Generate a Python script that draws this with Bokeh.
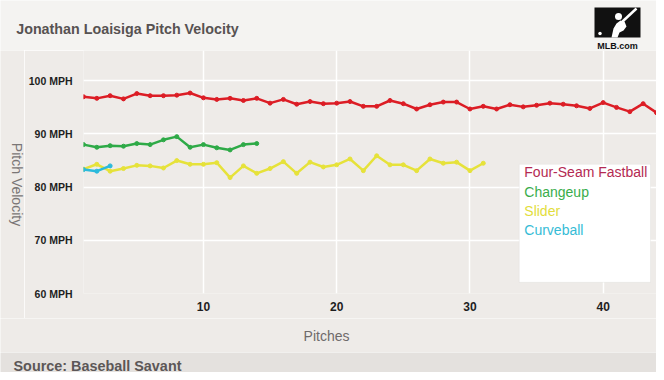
import math
from bokeh.plotting import figure
from bokeh.models import Range1d, FixedTicker, BoxAnnotation, Label
from bokeh.layouts import column, row
from bokeh.embed import file_html
from bokeh.resources import INLINE
from bokeh.core.properties import value

# ---------------- data ----------------
title_text = "Jonathan Loaisiga Pitch Velocity"
source_text = "Source: Baseball Savant"
x_label = "Pitches"
y_label = "Pitch Velocity"

y_ticks = [60, 70, 80, 90, 100]
y_tick_labels = ["60 MPH", "70 MPH", "80 MPH", "90 MPH", "100 MPH"]
x_ticks = [10, 20, 30, 40]

series_names = ["Four-Seam Fastball", "Changeup", "Slider", "Curveball"]
fastball = [97.0, 96.7, 97.2, 96.6, 97.6, 97.2, 97.2, 97.3, 97.7, 96.8, 96.5,
            96.7, 96.3, 96.7, 95.8, 96.5, 95.6, 96.1, 95.7, 95.8, 96.1, 95.2,
            95.2, 96.3, 95.7, 94.7, 95.5, 96.0, 96.0, 94.7, 95.2, 94.7, 95.5,
            95.1, 95.4, 95.8, 95.6, 95.3, 94.8, 95.9, 95.0, 94.2, 95.7, 94.0]
changeup = [88.0, 87.5, 87.8, 87.7, 88.2, 88.0, 88.9, 89.5, 87.5, 88.0, 87.4,
            87.0, 88.0, 88.2]
slider = [83.4, 84.3, 83.0, 83.5, 84.1, 84.0, 83.6, 85.0, 84.3, 84.3, 84.6,
          81.8, 84.0, 82.6, 83.5, 84.8, 82.6, 84.7, 83.8, 84.2, 85.3, 83.1,
          85.9, 84.2, 84.2, 83.1, 85.3, 84.5, 84.7, 83.1, 84.5]
curveball = [83.3, 83.0, 84.0]

line_colors = ["#dc1d25", "#2eaa47", "#e6e23a", "#2bbadc"]
legend_colors = ["#b42a52", "#3aad4c", "#e2dd3c", "#36bcd6"]

FONT = "Liberation Sans"
BODY_BG = "#eeebe8"
HEAD_BG = "#f4f3f1"
FOOT_BG = "#e4e1de"

W = 656


def strip(width, height, bg):
    f = figure(width=width, height=height, x_range=Range1d(0, width),
               y_range=Range1d(0, height), toolbar_location=None,
               output_backend="svg", min_border=0, frame_align=False)
    f.axis.visible = False
    f.grid.visible = False
    f.outline_line_color = None
    f.background_fill_color = bg
    f.border_fill_color = bg
    return f


# ---------------- header ----------------
head = strip(W, 50, HEAD_BG)
head.text(x=[15.7], y=[21.7], text=[title_text], text_font=value(FONT),
          text_font_style="bold", text_font_size="14.3px", text_color="#575252",
          text_baseline="alphabetic", text_align="left")
# MLB logo (approximation)
head.quad(left=[594], right=[640], bottom=[13], top=[43], fill_color="#111111",
          line_color=None)
head.patch(x=[611, 613, 616, 620, 624, 626, 623, 619, 617, 614],
           y=[13, 22, 27, 30, 29, 24, 20, 18, 13, 13],
           fill_color="white", line_color=None)
head.scatter(x=[618], y=[34], size=7, fill_color="white", line_color=None)
head.line(x=[622, 636], y=[29, 42], line_color="white", line_width=2.5)
head.scatter(x=[599.5], y=[17], size=3.5, fill_color="white", line_color=None)
head.text(x=[617], y=[5], text=["MLB.com"], text_font=value(FONT),
          text_font_style="bold", text_font_size="9px", text_color="#111111",
          text_baseline="middle", text_align="center")

# ---------------- y label strip ----------------
ylab = strip(24, 268, BODY_BG)
ylab.text(x=[16], y=[134], text=[y_label], text_font=value(FONT),
          text_font_size="14px", text_color="#7a7676", angle=-math.pi / 2,
          text_baseline="middle", text_align="center")

# ---------------- main chart ----------------
p = figure(width=W - 24, height=268, toolbar_location=None, output_backend="svg",
           x_range=Range1d(1, 44), y_range=Range1d(60, 105.7),
           min_border_left=59, min_border_right=0, min_border_top=0,
           min_border_bottom=25)
p.background_fill_color = BODY_BG
p.border_fill_color = BODY_BG
p.outline_line_color = None

for ax in (p.xaxis, p.yaxis):
    ax.axis_line_color = None
    ax.major_tick_line_color = None
    ax.minor_tick_line_color = None
    ax.major_tick_out = 0
    ax.major_tick_in = 0
    ax.major_label_text_font = FONT
    ax.major_label_text_font_style = "bold"
    ax.major_label_text_color = "#1e1e1e"

p.yaxis.ticker = FixedTicker(ticks=y_ticks)
p.yaxis.major_label_overrides = {t: l for t, l in zip(y_ticks, y_tick_labels)}
p.yaxis.major_label_text_font_size = "10.5px"
p.yaxis.major_label_standoff = 11
p.xaxis.ticker = FixedTicker(ticks=x_ticks)
p.xaxis.major_label_text_font_size = "12px"
p.xaxis.major_label_standoff = 8

p.xgrid.ticker = FixedTicker(ticks=x_ticks)
p.ygrid.ticker = FixedTicker(ticks=y_ticks)
p.grid.grid_line_color = "white"
p.grid.grid_line_width = 1.5

series = [fastball, changeup, slider, curveball]
for vals, col in zip(series, line_colors):
    xs = list(range(1, len(vals) + 1))
    p.line(xs, vals, line_color=col, line_width=2.5)
    p.scatter(xs, vals, size=4, fill_color=col, line_color=col)

# legend box with coloured texts
p.add_layout(BoxAnnotation(left=33.7, right=43.55, bottom=62.1, top=84.3,
                           fill_color="white", fill_alpha=1.0,
                           line_color="#d8d6d4", line_width=1))
leg_y = [82.76, 79.18, 75.52, 71.87]
for name, col, ly in zip(series_names, legend_colors, leg_y):
    p.add_layout(Label(x=34.08, y=ly, text=name, text_color=col,
                       text_font=FONT, text_font_size="14px",
                       text_baseline="middle", text_align="left"))

# ---------------- x label strip ----------------
xlab = strip(W, 34, BODY_BG)
xlab.text(x=[326], y=[17], text=[x_label], text_font=value(FONT),
          text_font_size="14px", text_color="#6e6a6a",
          text_baseline="middle", text_align="center")

# ---------------- footer ----------------
foot = strip(W, 20, FOOT_BG)
foot.text(x=[13], y=[7], text=[source_text], text_font=value(FONT),
          text_font_style="bold", text_font_size="14.4px", text_color="#5c5757",
          text_baseline="middle", text_align="left")

layout = column(head, row(ylab, p, spacing=0), xlab, foot, spacing=0)
open("out.html", "w").write(file_html(layout, INLINE))
